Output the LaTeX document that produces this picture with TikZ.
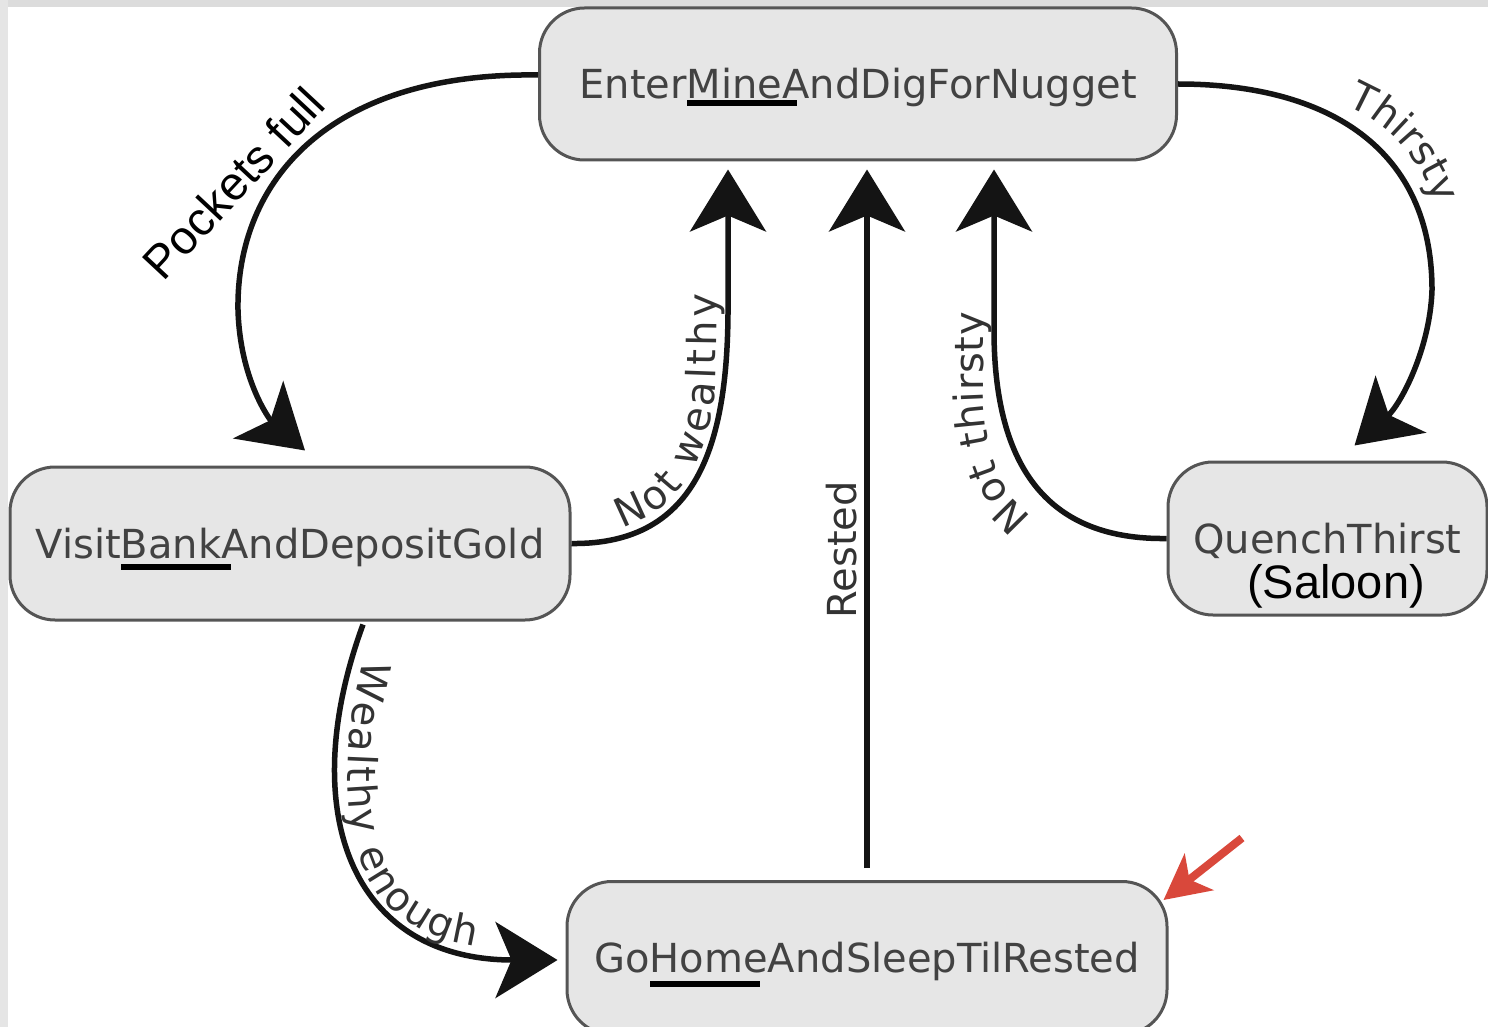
\documentclass[tikz,border=0pt]{standalone}
\usepackage{fontspec}
\setmainfont{DejaVu Sans}
\newfontfamily\arialfont{Liberation Sans}
\usetikzlibrary{arrows.meta,decorations.text,calc}

\definecolor{boxfill}{HTML}{E6E6E6}
\definecolor{boxline}{HTML}{555555}
\definecolor{nodetext}{HTML}{424242}
\definecolor{edgetext}{HTML}{333333}
\definecolor{framegray}{HTML}{DCDCDC}
\definecolor{pointer}{HTML}{D9483B}

\newcommand\statefont{\fontsize{40}{44}\selectfont}
\newcommand\edgefont{\fontsize{40}{44}\selectfont}
\newcommand\notefont{\arialfont\fontsize{47}{49}\selectfont}
% thick black bar under the key word of a state name
\newcommand\barword[2]{\rlap{\color{black}\rule[-#1]{110pt}{6pt}}#2}

\begin{document}
\begin{tikzpicture}[x=1pt,y=-1pt,
  state/.style={draw=boxline, line width=3pt, fill=boxfill, rounded corners=45pt,
    text=nodetext, font=\statefont, text height=29pt, text depth=0pt, inner sep=0pt},
  trans/.style={line width=5.5pt, draw=black!92, -{Stealth[length=62pt,width=76pt,inset=16pt]}},
  note/.style={font=\notefont, text=black, inner sep=0pt},
  % label set on its own baseline curve, spread to fill it
  curvelabel/.style={decorate, decoration={text along path, text align=fit to path,
    text={|\edgefont\color{edgetext}|#1}}}
]
\useasboundingbox (0,0) rectangle (1488,1027);
\fill[white] (0,0) rectangle (1488,1027);
\fill[framegray] (0,0) rectangle (1488,7);
\fill[framegray!75] (0,0) rectangle (8,1027);

% states
\node[state, minimum width=637pt, minimum height=152pt] (mine) at (858,84)
  {Enter\barword{7.5pt}{Mine}AndDigForNugget};
\node[state, minimum width=560pt, minimum height=153pt] (bank) at (290,543.5)
  {Visit\barword{12pt}{Bank}AndDepositGold};
\node[state, minimum width=319pt, minimum height=153pt] (quench) at (1327.5,538.5)
  {QuenchThirst};
\node[state, minimum width=600pt, minimum height=153pt] (home) at (867,958)
  {Go\barword{14pt}{Home}AndSleepTilRested};

\node[note, anchor=base] (saloon) at (1336,598) {(Saloon)};

% transitions
\draw[trans] ($(mine.west)+(0,-9)$) .. controls (330,72) and (236,180) .. (238,310)
  .. controls (240,380) and (270,420) .. ($(bank.north)+(15,-15)$);
\node[note, rotate=47] (pockets) at (233,183) {Pockets full};

\draw[trans] (bank.east) .. controls (700,545) and (729,440) .. (728,300)
  -- ($(mine.south)+(-130,8)$);
\path[curvelabel={Not wealthy}]
  (622,528) .. controls (680,508) and (716,460) .. (716,360) -- (717,294);

\draw[trans, shorten <=12pt] (home.north) -- ($(home.north |- mine.south)+(0,8)$)
  node[pos=0.465, sloped, above=4pt, font=\edgefont, text=edgetext] (rested) {Rested};

\draw[trans] (quench.west) .. controls (1050,540) and (994,470) .. (994,330)
  -- ($(mine.south)+(136,8)$);
\path[curvelabel={Not thirsty}]
  (1032,517) .. controls (995,490) and (983,440) .. (983,380) -- (983,312);

\draw[trans] (mine.east) .. controls (1330,84) and (1432,150) .. (1432,290)
  .. controls (1430,350) and (1400,405) .. ($(quench.north)+(27,-15)$);
\path[curvelabel={Thirsty}]
  (1346,106) .. controls (1386,122) and (1419,155) .. (1435,204);

\draw[trans] ($(bank.south)+(73,3)$) .. controls (295,810) and (350,960) .. ($(home.west)+(-8,2)$);
\path[curvelabel={Wealthy enough}]
  (364,660) .. controls (335,770) and (345,870) .. (395,912)
  .. controls (420,932) and (445,942) .. (475,946);

% red pointer
\coordinate (redtail) at (1242,838);
\draw[line width=8pt, pointer, -{Stealth[length=45pt,width=46pt,inset=12pt]}]
  (redtail) -- ([shift={(-5,20)}]home.north east);
\end{tikzpicture}
\end{document}
